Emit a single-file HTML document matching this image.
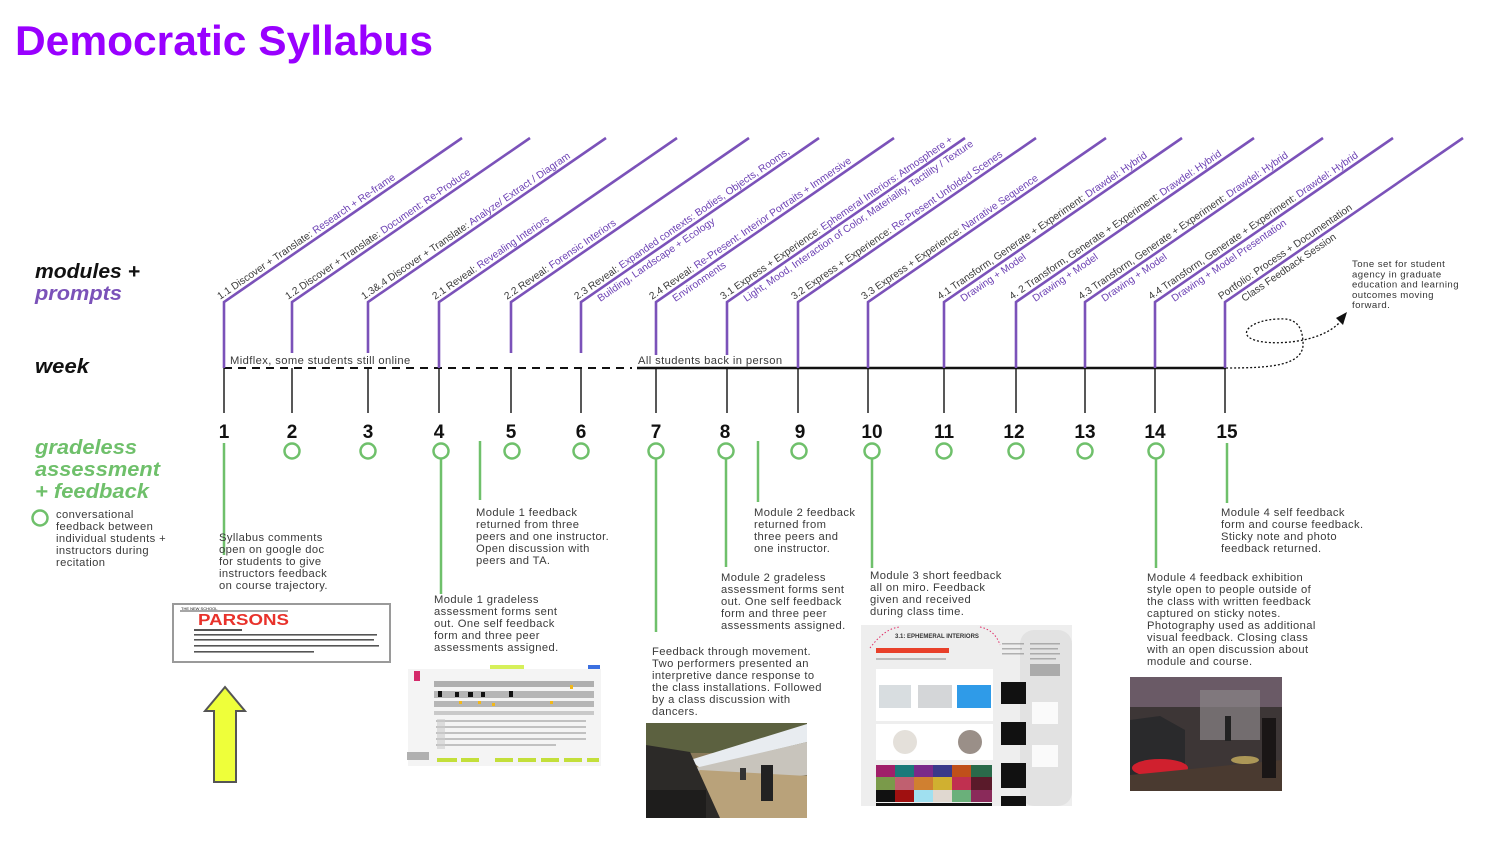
<!DOCTYPE html>
<html>
<head>
<meta charset="utf-8">
<style>
html,body{margin:0;padding:0;background:#fff;}
body{width:1500px;height:844px;overflow:hidden;}
svg{display:block;}
.lab{font-family:"Liberation Sans",sans-serif;font-size:10.2px;fill:#3a3a3a;}
.pl{fill:#6b3fb3;}
.body{font-family:"Liberation Sans",sans-serif;font-size:11.2px;letter-spacing:0.4px;fill:#3a3a3a;}
.num{font-family:"Liberation Sans",sans-serif;font-size:19px;font-weight:bold;fill:#111;}
.head{font-family:"Liberation Sans",sans-serif;font-size:20px;font-weight:bold;font-style:italic;}
</style>
</head>
<body>
<svg width="1500" height="844" viewBox="0 0 1500 844" xmlns="http://www.w3.org/2000/svg">
<rect width="1500" height="844" fill="#fff"/>

<!-- Title -->
<text x="15" y="55" font-family="Liberation Sans, sans-serif" font-size="42" font-weight="bold" fill="#9900ff" textLength="418" lengthAdjust="spacingAndGlyphs">Democratic Syllabus</text>

<!-- Left headings -->
<text class="head" x="35" y="278" fill="#111" textLength="105" lengthAdjust="spacingAndGlyphs">modules +</text>
<text class="head" x="35" y="300" fill="#7b52b9" textLength="87" lengthAdjust="spacingAndGlyphs">prompts</text>
<text class="head" x="35" y="373" fill="#111" textLength="54" lengthAdjust="spacingAndGlyphs">week</text>
<text class="head" x="35" y="454" fill="#6fc06b" textLength="102" lengthAdjust="spacingAndGlyphs">gradeless</text>
<text class="head" x="35" y="476" fill="#6fc06b" textLength="125" lengthAdjust="spacingAndGlyphs">assessment</text>
<text class="head" x="35" y="498" fill="#6fc06b" textLength="114" lengthAdjust="spacingAndGlyphs">+ feedback</text>

<circle cx="40" cy="518" r="7.5" fill="none" stroke="#6fc06b" stroke-width="2.5"/>
<text class="body" x="56" y="518"><tspan x="56">conversational</tspan><tspan x="56" dy="12">feedback between</tspan><tspan x="56" dy="12">individual students +</tspan><tspan x="56" dy="12">instructors during</tspan><tspan x="56" dy="12">recitation</tspan></text>

<!-- Timeline -->
<line x1="224" y1="368" x2="632" y2="368" stroke="#111" stroke-width="2" stroke-dasharray="8 6"/>
<line x1="637" y1="368" x2="1226" y2="368" stroke="#111" stroke-width="2.5"/>
<text class="body" x="230" y="364">Midflex, some students still online</text>
<text class="body" x="638" y="364">All students back in person</text>

<!-- dotted loop + arrow -->
<path d="M1226,368 C1270,368 1305,366 1303,342 C1302,322 1292,318 1278,319 C1252,320 1240,332 1250,338 C1262,345 1290,343 1303,340 C1318,337 1332,331 1340,322" fill="none" stroke="#111" stroke-width="1.3" stroke-dasharray="2 2"/>
<polygon points="1347,312 1336,318 1343,325" fill="#111"/>
<text font-family="Liberation Sans, sans-serif" font-size="9.6" letter-spacing="0.45" fill="#333" x="1352" y="267"><tspan x="1352">Tone set for student</tspan><tspan x="1352" dy="10.3">agency in graduate</tspan><tspan x="1352" dy="10.3">education and learning</tspan><tspan x="1352" dy="10.3">outcomes moving</tspan><tspan x="1352" dy="10.3">forward.</tspan></text>

<!-- Black ticks -->
<g stroke="#111" stroke-width="1.4">
<line x1="224" y1="368" x2="224" y2="413"/>
<line x1="292" y1="368" x2="292" y2="413"/>
<line x1="368" y1="368" x2="368" y2="413"/>
<line x1="439" y1="368" x2="439" y2="413"/>
<line x1="511" y1="368" x2="511" y2="413"/>
<line x1="581" y1="368" x2="581" y2="413"/>
<line x1="656" y1="368" x2="656" y2="413"/>
<line x1="727" y1="368" x2="727" y2="413"/>
<line x1="798" y1="368" x2="798" y2="413"/>
<line x1="868" y1="368" x2="868" y2="413"/>
<line x1="944" y1="368" x2="944" y2="413"/>
<line x1="1016" y1="368" x2="1016" y2="413"/>
<line x1="1085" y1="368" x2="1085" y2="413"/>
<line x1="1155" y1="368" x2="1155" y2="413"/>
<line x1="1225" y1="368" x2="1225" y2="413"/>
</g>

<!-- Purple module lines -->
<g fill="none" stroke="#7b52b9" stroke-width="2.6" stroke-linejoin="miter">
<path d="M224,368 L224,302 L462,138"/>
<path d="M292,353 L292,302 L530,138"/>
<path d="M368,353 L368,302 L606,138"/>
<path d="M439,368 L439,302 L677,138"/>
<path d="M511,353 L511,302 L749,138"/>
<path d="M581,353 L581,302 L819,138"/>
<path d="M656,355 L656,302 L894,138"/>
<path d="M727,355 L727,302 L965,138"/>
<path d="M798,368 L798,302 L1036,138"/>
<path d="M868,368 L868,302 L1106,138"/>
<path d="M944,368 L944,302 L1182,138"/>
<path d="M1016,368 L1016,302 L1254,138"/>
<path d="M1085,368 L1085,302 L1323,138"/>
<path d="M1155,368 L1155,302 L1393,138"/>
<path d="M1225,368 L1225,302 L1463,138"/>
</g>

<!-- Diagonal labels -->
<g class="lab">
<g transform="translate(224,302) rotate(-34.56)"><text x="-2" y="-4">1.1 Discover + Translate: <tspan class="pl">Research + Re-frame</tspan></text></g>
<g transform="translate(292,302) rotate(-34.56)"><text x="-2" y="-4">1.2 Discover + Translate: <tspan class="pl">Document: Re-Produce</tspan></text></g>
<g transform="translate(368,302) rotate(-34.56)"><text x="-2" y="-4">1.3&amp;.4 Discover + Translate: <tspan class="pl">Analyze/ Extract / Diagram</tspan></text></g>
<g transform="translate(439,302) rotate(-34.56)"><text x="-2" y="-4">2.1 Reveal: <tspan class="pl">Revealing Interiors</tspan></text></g>
<g transform="translate(511,302) rotate(-34.56)"><text x="-2" y="-4">2.2 Reveal: <tspan class="pl">Forensic Interiors</tspan></text></g>
<g transform="translate(581,302) rotate(-34.56)"><text x="-2" y="-4">2.3 Reveal: <tspan class="pl">Expanded contexts: Bodies, Objects, Rooms,</tspan></text><text x="16" y="11" class="pl">Building, Landscape + Ecology</text></g>
<g transform="translate(656,302) rotate(-34.56)"><text x="-2" y="-4">2.4 Reveal: <tspan class="pl">Re-Present: Interior Portraits + Immersive</tspan></text><text x="16" y="11" class="pl">Environments</text></g>
<g transform="translate(727,302) rotate(-34.56)"><text x="-2" y="-4">3.1 Express + Experience: <tspan class="pl">Ephemeral Interiors: Atmosphere +</tspan></text><text x="16" y="11" class="pl">Light, Mood, Interaction of Color, Materiality, Tactility / Texture</text></g>
<g transform="translate(798,302) rotate(-34.56)"><text x="-2" y="-4">3.2 Express + Experience: <tspan class="pl">Re-Present Unfolded Scenes</tspan></text></g>
<g transform="translate(868,302) rotate(-34.56)"><text x="-2" y="-4">3.3 Express + Experience: <tspan class="pl">Narrative Sequence</tspan></text></g>
<g transform="translate(944,302) rotate(-34.56)"><text x="-2" y="-4">4.1 Transform, Generate + Experiment: <tspan class="pl">Drawdel: Hybrid</tspan></text><text x="16" y="11" class="pl">Drawing + Model</text></g>
<g transform="translate(1016,302) rotate(-34.56)"><text x="-2" y="-4">4. 2 Transform, Generate + Experiment: <tspan class="pl">Drawdel: Hybrid</tspan></text><text x="16" y="11" class="pl">Drawing + Model</text></g>
<g transform="translate(1085,302) rotate(-34.56)"><text x="-2" y="-4">4.3 Transform, Generate + Experiment: <tspan class="pl">Drawdel: Hybrid</tspan></text><text x="16" y="11" class="pl">Drawing + Model</text></g>
<g transform="translate(1155,302) rotate(-34.56)"><text x="-2" y="-4">4.4 Transform, Generate + Experiment: <tspan class="pl">Drawdel: Hybrid</tspan></text><text x="16" y="11" class="pl">Drawing + Model Presentation</text></g>
<g transform="translate(1225,302) rotate(-34.56)"><text x="-2" y="-4">Portfolio: Process + Documentation</text><text x="16" y="11">Class Feedback Session</text></g>
</g>

<!-- Week numbers -->
<g class="num" text-anchor="middle">
<text x="224" y="438">1</text>
<text x="292" y="438">2</text>
<text x="368" y="438">3</text>
<text x="439" y="438">4</text>
<text x="511" y="438">5</text>
<text x="581" y="438">6</text>
<text x="656" y="438">7</text>
<text x="725" y="438">8</text>
<text x="800" y="438">9</text>
<text x="872" y="438">10</text>
<text x="944" y="438">11</text>
<text x="1014" y="438">12</text>
<text x="1085" y="438">13</text>
<text x="1155" y="438">14</text>
<text x="1227" y="438">15</text>
</g>

<!-- Green circles -->
<g fill="none" stroke="#6fc06b" stroke-width="2.5">
<circle cx="292" cy="451" r="7.5"/>
<circle cx="368" cy="451" r="7.5"/>
<circle cx="441" cy="451" r="7.5"/>
<circle cx="512" cy="451" r="7.5"/>
<circle cx="581" cy="451" r="7.5"/>
<circle cx="656" cy="451" r="7.5"/>
<circle cx="726" cy="451" r="7.5"/>
<circle cx="799" cy="451" r="7.5"/>
<circle cx="872" cy="451" r="7.5"/>
<circle cx="944" cy="451" r="7.5"/>
<circle cx="1016" cy="451" r="7.5"/>
<circle cx="1085" cy="451" r="7.5"/>
<circle cx="1156" cy="451" r="7.5"/>
</g>

<!-- Green lines -->
<g stroke="#6fc06b" stroke-width="2.5">
<line x1="224" y1="443" x2="224" y2="555"/>
<line x1="441" y1="459" x2="441" y2="594"/>
<line x1="480" y1="441" x2="480" y2="500"/>
<line x1="656" y1="459" x2="656" y2="632"/>
<line x1="726" y1="459" x2="726" y2="567"/>
<line x1="758" y1="441" x2="758" y2="502"/>
<line x1="872" y1="459" x2="872" y2="568"/>
<line x1="1156" y1="459" x2="1156" y2="568"/>
<line x1="1227" y1="443" x2="1227" y2="503"/>
</g>

<!-- Feedback texts -->
<text class="body" x="219" y="541"><tspan x="219">Syllabus comments</tspan><tspan x="219" dy="12">open on google doc</tspan><tspan x="219" dy="12">for students to give</tspan><tspan x="219" dy="12">instructors feedback</tspan><tspan x="219" dy="12">on course trajectory.</tspan></text>

<text class="body" x="476" y="516"><tspan x="476">Module 1 feedback</tspan><tspan x="476" dy="12">returned from three</tspan><tspan x="476" dy="12">peers and one instructor.</tspan><tspan x="476" dy="12">Open discussion with</tspan><tspan x="476" dy="12">peers and TA.</tspan></text>

<text class="body" x="434" y="603"><tspan x="434">Module 1 gradeless</tspan><tspan x="434" dy="12">assessment forms sent</tspan><tspan x="434" dy="12">out. One self feedback</tspan><tspan x="434" dy="12">form and three peer</tspan><tspan x="434" dy="12">assessments assigned.</tspan></text>

<text class="body" x="754" y="516"><tspan x="754">Module 2 feedback</tspan><tspan x="754" dy="12">returned from</tspan><tspan x="754" dy="12">three peers and</tspan><tspan x="754" dy="12">one instructor.</tspan></text>

<text class="body" x="721" y="581"><tspan x="721">Module 2 gradeless</tspan><tspan x="721" dy="12">assessment forms sent</tspan><tspan x="721" dy="12">out. One self feedback</tspan><tspan x="721" dy="12">form and three peer</tspan><tspan x="721" dy="12">assessments assigned.</tspan></text>

<text class="body" x="652" y="655"><tspan x="652">Feedback through movement.</tspan><tspan x="652" dy="12">Two performers presented an</tspan><tspan x="652" dy="12">interpretive dance response to</tspan><tspan x="652" dy="12">the class installations. Followed</tspan><tspan x="652" dy="12">by a class discussion with</tspan><tspan x="652" dy="12">dancers.</tspan></text>

<text class="body" x="870" y="579"><tspan x="870">Module 3 short feedback</tspan><tspan x="870" dy="12">all on miro. Feedback</tspan><tspan x="870" dy="12">given and received</tspan><tspan x="870" dy="12">during class time.</tspan></text>

<text class="body" x="1147" y="581"><tspan x="1147">Module 4 feedback exhibition</tspan><tspan x="1147" dy="12">style open to people outside of</tspan><tspan x="1147" dy="12">the class with written feedback</tspan><tspan x="1147" dy="12">captured on sticky notes.</tspan><tspan x="1147" dy="12">Photography used as additional</tspan><tspan x="1147" dy="12">visual feedback. Closing class</tspan><tspan x="1147" dy="12">with an open discussion about</tspan><tspan x="1147" dy="12">module and course.</tspan></text>

<text class="body" x="1221" y="516"><tspan x="1221">Module 4 self feedback</tspan><tspan x="1221" dy="12">form and course feedback.</tspan><tspan x="1221" dy="12">Sticky note and photo</tspan><tspan x="1221" dy="12">feedback returned.</tspan></text>

<!-- Parsons syllabus box -->
<rect x="173" y="604" width="217" height="58" fill="#fff" stroke="#9a9a9a" stroke-width="2"/>
<line x1="180" y1="611" x2="288" y2="611" stroke="#111" stroke-width="0.8"/>
<text x="181" y="610" font-family="Liberation Sans, sans-serif" font-size="4" fill="#111">THE NEW SCHOOL</text>
<text x="198" y="625" font-family="Liberation Sans, sans-serif" font-size="16" font-weight="bold" fill="#e8322b" textLength="91" lengthAdjust="spacingAndGlyphs">PARSONS</text>
<g fill="#555">
<rect x="194" y="629" width="48" height="2"/>
<rect x="194" y="634" width="183" height="1.6"/>
<rect x="194" y="639" width="180" height="1.6"/>
<rect x="194" y="645" width="185" height="1.6"/>
<rect x="194" y="651" width="120" height="1.6"/>
</g>

<!-- Yellow arrow -->
<polygon points="225,687 245,711 236,711 236,782 214,782 214,711 205,711" fill="#eeff3a" stroke="#555" stroke-width="2" stroke-linejoin="miter"/>

<!-- Miro board 1 -->
<g>
<rect x="408" y="664" width="193" height="102" fill="#f4f4f4"/>
<rect x="408" y="664" width="193" height="5" fill="#fff"/>
<rect x="490" y="665" width="34" height="4" fill="#d6f05a"/>
<rect x="588" y="665" width="12" height="4" fill="#3b6fe0"/>
<rect x="414" y="671" width="6" height="10" fill="#d42a6a"/>
<g fill="#777">
<rect x="434" y="681" width="160" height="6" opacity="0.55"/>
<rect x="434" y="691" width="160" height="7" opacity="0.5"/>
<rect x="434" y="701" width="160" height="6" opacity="0.5"/>
<rect x="434" y="711" width="160" height="4" opacity="0.35"/>
</g>
<g fill="#111">
<rect x="438" y="691" width="4" height="6"/>
<rect x="455" y="692" width="4" height="5"/>
<rect x="468" y="692" width="5" height="5"/>
<rect x="481" y="692" width="4" height="5"/>
<rect x="509" y="691" width="4" height="6"/>
</g>
<g fill="#f2b81a">
<rect x="459" y="701" width="3" height="3"/>
<rect x="478" y="701" width="3" height="3"/>
<rect x="492" y="703" width="3" height="3"/>
<rect x="550" y="701" width="3" height="3"/>
<rect x="570" y="685" width="3" height="4"/>
</g>
<g fill="#999" opacity="0.55">
<rect x="436" y="720" width="150" height="2"/>
<rect x="436" y="726" width="150" height="2"/>
<rect x="436" y="732" width="150" height="2"/>
<rect x="436" y="738" width="150" height="2"/>
<rect x="436" y="744" width="120" height="2"/>
</g>
<rect x="437" y="719" width="8" height="30" fill="#ccc" opacity="0.6"/>
<rect x="407" y="752" width="22" height="8" fill="#b0b0b0"/>
<g fill="#c3df3a">
<rect x="437" y="758" width="20" height="4"/>
<rect x="461" y="758" width="18" height="4"/>
<rect x="495" y="758" width="18" height="4"/>
<rect x="518" y="758" width="18" height="4"/>
<rect x="541" y="758" width="18" height="4"/>
<rect x="564" y="758" width="18" height="4"/>
<rect x="587" y="758" width="12" height="4"/>
</g>
</g>

<!-- Dance photo -->
<g>
<rect x="646" y="723" width="161" height="95" fill="#8a7a5a"/>
<rect x="646" y="723" width="161" height="30" fill="#5c6140"/>
<polygon points="690,760 807,724 807,742 700,768" fill="#e8ecf0"/>
<polygon points="695,768 807,742 807,775 700,790" fill="#c8c4bc"/>
<polygon points="660,800 700,770 807,776 807,818 660,818" fill="#b9a27a"/>
<polygon points="646,745 690,752 720,818 646,818" fill="#2c2a28"/>
<rect x="646" y="790" width="60" height="28" fill="#1e1d1c"/>
<rect x="761" y="765" width="12" height="36" fill="#222"/>
<rect x="740" y="768" width="6" height="12" fill="#333"/>
</g>

<!-- Miro panel 2 -->
<g>
<rect x="861" y="625" width="211" height="181" fill="#eeeeee"/>
<rect x="1020" y="630" width="52" height="176" rx="14" fill="#e2e2e2"/>
<path d="M870,648 Q885,628 900,627" fill="none" stroke="#e0306a" stroke-width="1" stroke-dasharray="1.5 2"/>
<path d="M980,627 Q995,630 1000,645" fill="none" stroke="#e0306a" stroke-width="1" stroke-dasharray="1.5 2"/>
<text x="895" y="638" font-family="Liberation Sans, sans-serif" font-size="6" font-weight="bold" fill="#333">3.1: EPHEMERAL INTERIORS</text>
<rect x="876" y="648" width="73" height="5" fill="#e8402a"/>
<rect x="876" y="658" width="70" height="2" fill="#bbb"/>
<rect x="876" y="669" width="117" height="52" fill="#fff"/>
<rect x="879" y="685" width="32" height="23" fill="#d8dde0"/>
<rect x="918" y="685" width="34" height="23" fill="#d4d6d8"/>
<rect x="957" y="685" width="34" height="23" fill="#2f9be8"/>
<rect x="876" y="724" width="117" height="36" fill="#fff"/>
<circle cx="905" cy="742" r="12" fill="#e4e0da"/>
<circle cx="970" cy="742" r="12" fill="#9a8f88"/>
<g>
<rect x="876" y="765" width="19" height="12" fill="#a0206a"/>
<rect x="895" y="765" width="19" height="12" fill="#1a7a7a"/>
<rect x="914" y="765" width="19" height="12" fill="#7a2a8a"/>
<rect x="933" y="765" width="19" height="12" fill="#3a3a8a"/>
<rect x="952" y="765" width="19" height="12" fill="#c0501a"/>
<rect x="971" y="765" width="21" height="12" fill="#2a6a4a"/>
<rect x="876" y="777" width="19" height="13" fill="#7a9a4a"/>
<rect x="895" y="777" width="19" height="13" fill="#c06070"/>
<rect x="914" y="777" width="19" height="13" fill="#d08030"/>
<rect x="933" y="777" width="19" height="13" fill="#d0b030"/>
<rect x="952" y="777" width="19" height="13" fill="#c03050"/>
<rect x="971" y="777" width="21" height="13" fill="#5a1a2a"/>
<rect x="876" y="790" width="19" height="12" fill="#111"/>
<rect x="895" y="790" width="19" height="12" fill="#a01010"/>
<rect x="914" y="790" width="19" height="12" fill="#a0e0f0"/>
<rect x="933" y="790" width="19" height="12" fill="#e0d8d0"/>
<rect x="952" y="790" width="19" height="12" fill="#6ab07a"/>
<rect x="971" y="790" width="21" height="12" fill="#8a2a5a"/>
<rect x="876" y="803" width="116" height="3" fill="#111"/>
</g>
<rect x="1001" y="682" width="25" height="22" fill="#111"/>
<rect x="1001" y="722" width="25" height="23" fill="#111"/>
<rect x="1001" y="763" width="25" height="25" fill="#111"/>
<rect x="1001" y="796" width="25" height="10" fill="#111"/>
<g fill="#888" opacity="0.6">
<rect x="1002" y="643" width="22" height="1.5"/>
<rect x="1002" y="648" width="20" height="1.5"/>
<rect x="1002" y="653" width="22" height="1.5"/>
<rect x="1030" y="643" width="30" height="1.5"/>
<rect x="1030" y="648" width="28" height="1.5"/>
<rect x="1030" y="653" width="30" height="1.5"/>
<rect x="1030" y="658" width="26" height="1.5"/>
<rect x="1030" y="664" width="30" height="12"/>
</g>
<rect x="1032" y="702" width="26" height="22" fill="#fafafa"/>
<rect x="1032" y="745" width="26" height="22" fill="#fafafa"/>
</g>

<!-- Exhibition photo -->
<g>
<rect x="1130" y="677" width="152" height="114" fill="#3d3636"/>
<rect x="1130" y="677" width="152" height="30" fill="#6a5a66"/>
<rect x="1200" y="690" width="60" height="50" fill="#8a8488" opacity="0.7"/>
<polygon points="1130,720 1160,716 1185,730 1185,770 1130,780" fill="#2a2a2c"/>
<ellipse cx="1160" cy="768" rx="28" ry="9" fill="#d0202e"/>
<polygon points="1130,775 1282,760 1282,791 1130,791" fill="#4a3a30"/>
<ellipse cx="1245" cy="760" rx="14" ry="4" fill="#c8b060" opacity="0.8"/>
<rect x="1262" y="718" width="14" height="60" fill="#1a1616"/>
<rect x="1225" y="716" width="6" height="25" fill="#222"/>
</g>

</svg>
</body>
</html>
